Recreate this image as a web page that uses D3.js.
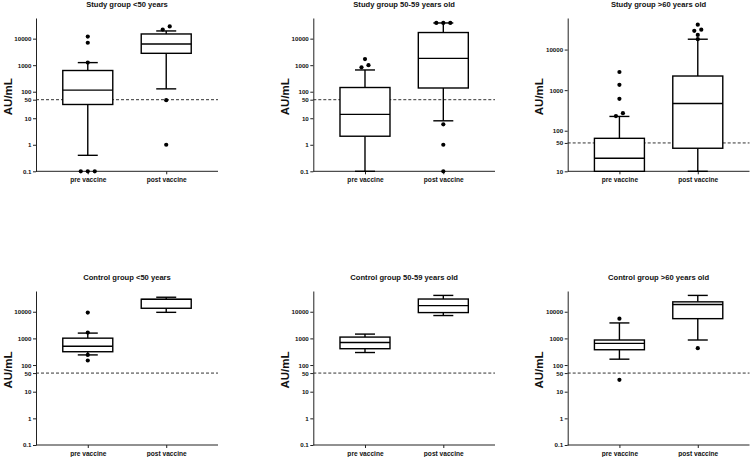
<!DOCTYPE html>
<html>
<head>
<meta charset="utf-8">
<script src="https://cdn.jsdelivr.net/npm/d3@7"></script>
<style>
  body { margin: 0; background: #fff; }
  text { font-family: "Liberation Sans", Arial, sans-serif; font-weight: bold; fill: #111; }
</style>
</head>
<body>
<div id="chart"></div>
<script>
// one entry per panel, left-to-right, top row then bottom row
var titles = [
  "Study group <50 years", "Study group 50-59 years old", "Study group >60 years old",
  "Control group <50 years", "Control group 50-59 years old", "Control group >60 years old"
];
var categories = ["pre vaccine", "post vaccine"];
var yFloor = [0.1, 0.1, 10, 0.1, 0.1, 0.1];
var yCeil = 60000;
var fullTicks = [0.1, 1, 10, 50, 100, 1000, 10000];
var highTicks = [10, 50, 100, 1000, 10000];
var tickSets = [fullTicks, fullTicks, highTicks, fullTicks, fullTicks, fullTicks];
var cutoff = 50;

// [pre, post] per panel
var whiskerLo = [[0.4, 128], [0.1, 8], [10, 10], [240, 9500], [295, 7200], [166, 870]];
var q1 = [[33, 2800], [2.1, 138], [10, 37], [316, 13500], [410, 9300], [375, 5500]];
var med = [[115, 6300], [14, 1800], [21, 470], [510, 29000], [700, 17000], [650, 18600]];
var q3 = [[630, 15000], [144, 17000], [65, 2230], [1020, 29500], [1120, 30000], [870, 23500]];
var whiskerHi = [[1250, 19500], [660, 39000], [225, 18000], [1580, 35000], [1450, 41000], [3800, 41000]];
var outliers = [
  [[0.1, 0.1, 0.1, 1250, 7000, 12000], [1, 48, 22000, 29000]],
  [[830, 1000, 1700], [0.1, 1, 5.9, 39000, 39000, 39000]],
  [[230, 270, 610, 1350, 2800], [18000, 23000, 29000, 31000, 41000]],
  [[148, 240, 1650, 9300], []],
  [[], []],
  [[28, 5500], [430]]
];

var width = 750, height = 457,
    colLeft = [36, 313.3, 567.7],
    colRight = [218, 495, 749.5],
    rowTop = [18, 291],
    rowBottom = [171.3, 445],
    boxW = 50,
    capW = 20,
    dotR = 2.1,
    dotStep = 7;

var svg = d3.select("#chart").append("svg")
  .attr("width", width)
  .attr("height", height);

titles.forEach(function (title, p) {
  var col = p % 3, row = Math.floor(p / 3);
  var x0 = colLeft[col], x1 = colRight[col], yTop = rowTop[row], yBot = rowBottom[row];

  var x = d3.scalePoint().domain(categories).range([x0, x1]).padding(0.66);
  var y = d3.scaleLog().domain([yFloor[p], yCeil]).range([yBot, yTop]);

  var g = svg.append("g");

  g.append("text")
    .attr("x", (x0 + x1) / 2)
    .attr("y", yTop - 11.5)
    .attr("text-anchor", "middle")
    .style("font-size", "7.6px")
    .text(title);

  // cutoff line
  g.append("line")
    .attr("x1", x0).attr("x2", x1)
    .attr("y1", y(cutoff)).attr("y2", y(cutoff))
    .attr("stroke", "#333")
    .attr("stroke-width", 1)
    .attr("stroke-dasharray", "3,2");

  var yAxis = g.append("g")
    .attr("transform", "translate(" + x0 + ",0)")
    .call(d3.axisLeft(y).tickValues(tickSets[p]).tickFormat(function (d) { return d; })
      .tickSize(3).tickPadding(1.5).tickSizeOuter(0));
  yAxis.selectAll("text").style("font-size", "6.2px").style("font-family", null);

  var xAxis = g.append("g")
    .attr("transform", "translate(0," + yBot + ")")
    .call(d3.axisBottom(x).tickSize(3).tickPadding(3).tickSizeOuter(0));
  xAxis.selectAll("text").style("font-size", "6.6px").style("font-family", null);
  xAxis.select(".domain").attr("d", "M" + x0 + ",0H" + x1);

  g.selectAll(".domain, .tick line").attr("stroke", "#222").attr("stroke-width", 1);

  g.append("text")
    .attr("transform", "translate(" + (x0 - 24.5) + "," + ((yTop + yBot) / 2 + 2) + ") rotate(-90)")
    .attr("text-anchor", "middle")
    .style("font-size", "11.5px")
    .text("AU/mL");

  categories.forEach(function (c, i) {
    var cx = x(c);
    var b = g.append("g").attr("stroke", "#000").attr("stroke-width", 1.4).attr("fill", "none");

    // whiskers
    b.append("line").attr("x1", cx).attr("x2", cx).attr("y1", y(whiskerHi[p][i])).attr("y2", y(q3[p][i]));
    b.append("line").attr("x1", cx).attr("x2", cx).attr("y1", y(q1[p][i])).attr("y2", y(whiskerLo[p][i]));
    b.append("line").attr("x1", cx - capW / 2).attr("x2", cx + capW / 2)
      .attr("y1", y(whiskerHi[p][i])).attr("y2", y(whiskerHi[p][i]));
    b.append("line").attr("x1", cx - capW / 2).attr("x2", cx + capW / 2)
      .attr("y1", y(whiskerLo[p][i])).attr("y2", y(whiskerLo[p][i]));

    b.append("rect")
      .attr("x", cx - boxW / 2).attr("width", boxW)
      .attr("y", y(q3[p][i])).attr("height", y(q1[p][i]) - y(q3[p][i]))
      .attr("fill", "#fff");
    b.append("line").attr("x1", cx - boxW / 2).attr("x2", cx + boxW / 2)
      .attr("y1", y(med[p][i])).attr("y2", y(med[p][i]));

    // outliers: points that sit within a dot of each other are spread sideways
    var pts = outliers[p][i].slice().sort(d3.ascending);
    var clusters = [];
    pts.forEach(function (v) {
      var last = clusters[clusters.length - 1];
      if (last && Math.abs(y(last[last.length - 1]) - y(v)) < 3.5) last.push(v);
      else clusters.push([v]);
    });
    clusters.forEach(function (cl) {
      cl.forEach(function (v, k) {
        g.append("circle")
          .attr("cx", cx + (k - (cl.length - 1) / 2) * dotStep)
          .attr("cy", y(v))
          .attr("r", dotR)
          .attr("fill", "#000");
      });
    });
  });
});
</script>
</body>
</html>
